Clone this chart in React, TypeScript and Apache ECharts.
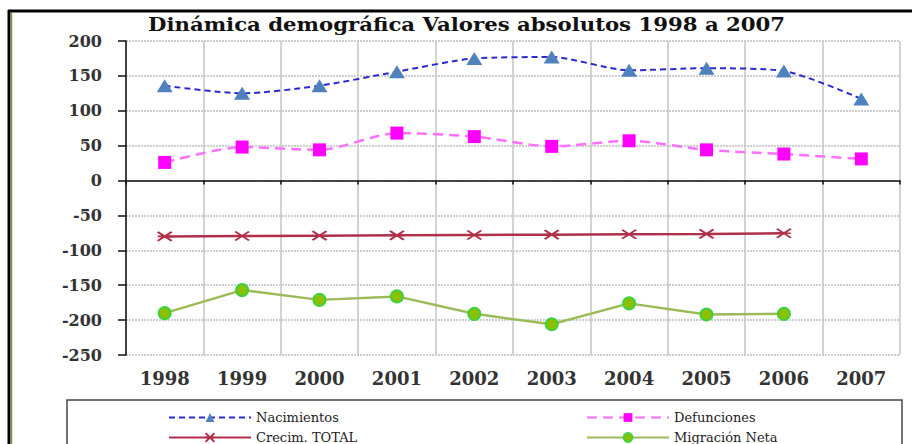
import React, { useEffect, useRef } from "react";
import * as echarts from "echarts";

const years = ["1998", "1999", "2000", "2001", "2002", "2003", "2004", "2005", "2006", "2007"];
const nacimientos = [136, 125, 136, 156, 175, 177, 158, 161, 157, 117];
const defunciones = [26, 48, 44, 68, 63, 49, 57, 44, 38, 31];
const crecimTotal = [-80, -79.5, -79, -78.5, -78, -77.5, -77, -76.5, -75.5, null];
const migracionNeta = [-190, -157, -171, -166, -191, -206, -176, -192, -191, null];
const titleText = "Dinámica demográfica Valores absolutos 1998 a 2007";

const FONT = "DejaVu Serif";

export default function App() {
  const ref = useRef<HTMLDivElement>(null);
  useEffect(() => {
    const chart = echarts.init(ref.current!, null, { renderer: "svg" });
    const legendText = { fontFamily: FONT, fontSize: 13, color: "#222" };
    const mkLegend = (name: string, left: number, top: number) => ({
      data: [name],
      left,
      top,
      itemWidth: 82,
      itemHeight: 11,
      itemGap: 0,
      textStyle: legendText,
      selectedMode: false,
    });
    chart.setOption({
      animation: false,
      backgroundColor: "#fff",
      legend: [
        mkLegend("Nacimientos", 163, 406),
        mkLegend("Defunciones", 581, 406),
        mkLegend("Crecim. TOTAL", 163, 426),
        mkLegend("Migración Neta", 581, 426),
      ],
      grid: { left: 126, right: 12, top: 41, bottom: 89 },
      xAxis: [
        {
          type: "category",
          data: years,
          position: "bottom",
          boundaryGap: true,
          axisLine: { show: false, onZero: false },
          axisTick: { show: false },
          axisLabel: {
            margin: 14,
            fontFamily: FONT,
            fontSize: 18,
            fontWeight: "bold",
            color: "#333",
          },
          splitLine: { show: true, lineStyle: { color: "#c4c4c4", width: 1.5, type: "solid" } },
        },
        {
          type: "category",
          data: years,
          position: "top",
          boundaryGap: true,
          axisLine: { show: true, onZero: true, lineStyle: { color: "#111", width: 1.5 } },
          axisTick: { show: true, inside: true, length: 4, lineStyle: { color: "#111", width: 1.5 } },
          axisLabel: { show: false },
          splitLine: { show: false },
        },
      ],
      yAxis: {
        type: "value",
        min: -250,
        max: 200,
        interval: 50,
        axisLine: { show: true, lineStyle: { color: "#111", width: 1.5 } },
        axisTick: { show: true, length: 8, lineStyle: { color: "#111", width: 1.5 } },
        axisLabel: {
          margin: 24,
          fontFamily: FONT,
          fontSize: 16,
          fontWeight: "bold",
          color: "#333",
        },
        splitLine: { show: true, lineStyle: { color: "#bdbdbd", width: 1.5, type: [2, 1] } },
      },
      series: [
        {
          name: "Nacimientos",
          type: "line",
          data: nacimientos,
          smooth: 0.25,
          symbol: "triangle",
          symbolSize: [16, 13],
          lineStyle: { color: "#2a2ad0", width: 2, type: [6, 4] },
          itemStyle: { color: "#4f81bd" },
        },
        {
          name: "Defunciones",
          type: "line",
          data: defunciones,
          smooth: 0.25,
          symbol: "rect",
          symbolSize: 13,
          lineStyle: { color: "#ff70ff", width: 2.5, type: [10, 6] },
          itemStyle: { color: "#ff00ff" },
        },
        {
          name: "Crecim. TOTAL",
          type: "line",
          data: crecimTotal,
          symbol: "path://M0,0L10,10M10,0L0,10M0,5L10,5",
          symbolSize: [14, 9],
          lineStyle: { color: "#b0304a", width: 2.5 },
          itemStyle: { color: "#b0304a", borderColor: "#b0304a", borderWidth: 2 },
        },
        {
          name: "Migración Neta",
          type: "line",
          data: migracionNeta,
          symbol: "circle",
          symbolSize: 12,
          lineStyle: { color: "#9bbb59", width: 2.5 },
          itemStyle: { color: "#8cc000", borderColor: "#40d040", borderWidth: 2 },
        },
      ],
      graphic: [
        {
          type: "text",
          x: 148,
          y: 16,
          scaleX: 1.18,
          silent: true,
          style: {
            text: titleText,
            fontFamily: FONT,
            fontSize: 18,
            fontWeight: "bold",
            fill: "#111",
          },
        },
        {
          type: "rect",
          shape: { x: 67, y: 400, width: 835, height: 60 },
          style: { fill: "none", stroke: "#444", lineWidth: 1.5 },
          silent: true,
        },
        {
          type: "line",
          shape: { x1: 8, y1: 11, x2: 912, y2: 11 },
          style: { stroke: "#000", lineWidth: 3 },
          silent: true,
        },
        {
          type: "line",
          shape: { x1: 9, y1: 10, x2: 9, y2: 444 },
          style: { stroke: "#000", lineWidth: 3 },
          silent: true,
        },
        {
          type: "line",
          shape: { x1: 11.5, y1: 12, x2: 11.5, y2: 444 },
          style: { stroke: "#8a8a40", lineWidth: 1.5 },
          silent: true,
        },
      ],
    });
    return () => chart.dispose();
  }, []);
  return (
    <div
      ref={ref}
      style={{ position: "fixed", left: 0, top: 0, width: 912, height: 444 }}
    />
  );
}
